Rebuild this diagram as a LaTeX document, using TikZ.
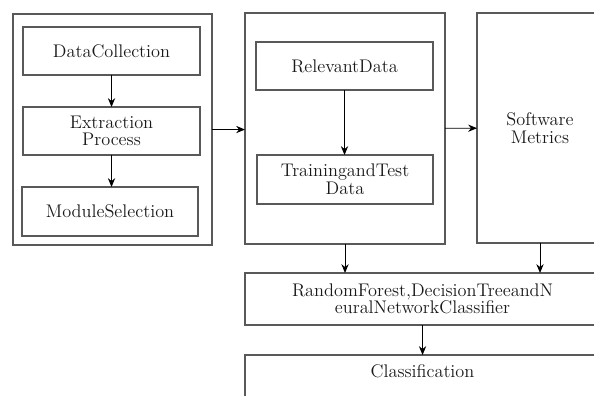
\documentclass[tikz,border=0pt]{standalone}
\usepackage{xcolor}
\usepackage{tikz}
\usetikzlibrary{positioning, arrows.meta}

\begin{document}
\begin{tikzpicture}[
  x=0.025cm, y=-0.025cm,
  every node/.style={font=\rmfamily\fontsize{13}{12.5}\selectfont, align=center, text=black!90},
  box/.style={draw=black!65, line width=1pt, inner sep=0pt, outer sep=0pt,
              anchor=north west},
  arrow/.style={-{Stealth[length=2.2mm, width=1.8mm]}, line width=0.6pt}
]
  \useasboundingbox (0,0) rectangle (594,396);

  % first stage
  \node (collect) [box, minimum width=4.975cm, minimum height=5.775cm] at (13,14) {};
  \node (datacol) [box, minimum width=4.425cm, minimum height=1.2cm] at (23,27) {DataCollection};
  \node (extract) [box, minimum width=4.425cm, minimum height=1.2cm] at (23,107) {Extraction\\Process};
  \node (modsel) [box, minimum width=4.4cm, minimum height=1.225cm] at (22,187) {ModuleSelection};
  \draw[arrow] (datacol) -- (extract);
  \draw[arrow] (extract.south) -- (extract.south |- modsel.north);

  % second stage
  \node (prepare) [box, minimum width=5cm, minimum height=5.775cm] at (245,13) {};
  \node (relevant) [box, minimum width=4.425cm, minimum height=1.2cm] at (256,42) {RelevantData};
  \node (traintest) [box, minimum width=4.4cm, minimum height=1.225cm] at (257,155) {TrainingandTest\\Data};
  \draw[arrow] (relevant.south) -- (relevant.south |- traintest.north);

  % metrics
  \node (metrics) [box, minimum width=3.15cm, minimum height=5.75cm] at (477,13) {Software\\Metrics};

  \draw[arrow] (collect.east) -- (collect.east -| prepare.west);
  \draw[arrow] (prepare) -- (metrics);

  % classifiers
  \node (classifier) [box, minimum width=8.875cm, minimum height=1.3cm] at (245,273)
       {RandomForest,DecisionTreeandN\\euralNetworkClassifier};
  \node (classify) [box, minimum width=8.875cm, text height=0.55cm, text depth=1.1cm] at (245,355)
       {Classification};

  \draw[arrow] (prepare.south) -- (prepare.south |- classifier.north);
  \draw[arrow] (metrics.south) -- (metrics.south |- classifier.north);
  \draw[arrow] (classifier) -- (classify);
\end{tikzpicture}
\end{document}
